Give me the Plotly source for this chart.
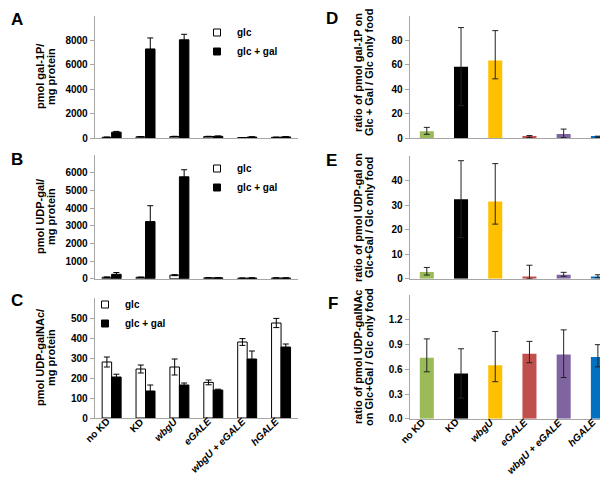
import plotly.graph_objects as go

W, H = 608, 477

groups = ['no KD', 'KD', 'wbgU', 'eGALE', 'wbgU + eGALE', 'hGALE']
italic_groups = ['wbgU', 'eGALE', 'wbgU + eGALE', 'hGALE']
ratio_colors = ['#9BBB59', '#000000', '#FFC000', '#C0504D', '#8064A2', '#0070C0']

# A: pmol gal-1P / mg protein
gal1p_glc = [60, 100, 120, 120, 30, 60]
gal1p_glc_err = [20, 20, 20, 20, 10, 10]
gal1p_gal = [480, 7300, 8050, 140, 80, 90]
gal1p_gal_err = [60, 900, 450, 30, 20, 20]

# B: pmol UDP-gal / mg protein
udpgal_glc = [80, 80, 200, 50, 30, 40]
udpgal_glc_err = [20, 10, 30, 10, 10, 10]
udpgal_gal = [250, 3240, 5780, 50, 40, 40]
udpgal_gal_err = [100, 900, 400, 10, 10, 10]

# C: pmol UDP-galNAc / mg protein
galnac_glc = [280, 245, 255, 178, 380, 475]
galnac_glc_err = [25, 20, 40, 12, 17, 23]
galnac_gal = [205, 135, 165, 140, 295, 355]
galnac_gal_err = [14, 30, 10, 4, 40, 15]

# D-F: ratio glc+gal / glc
ratio_gal1p = [5.5, 58.5, 63.5, 1.2, 3.3, 1.0]
ratio_gal1p_up = [3.2, 32, 24.5, 0.8, 4.0, 0.5]
ratio_gal1p_dn = [2.5, 32, 15, 0.8, 3.0, 0.5]

ratio_udpgal = [2.7, 32.5, 31.5, 0.9, 1.6, 0.9]
ratio_udpgal_up = [1.9, 15.7, 15.5, 4.6, 1.0, 0.7]
ratio_udpgal_dn = [1.2, 15.7, 9.2, 0.9, 0.6, 0.5]

ratio_galnac = [0.74, 0.55, 0.65, 0.79, 0.78, 0.75]
ratio_galnac_up = [0.23, 0.30, 0.41, 0.15, 0.30, 0.15]
ratio_galnac_dn = [0.17, 0.30, 0.20, 0.11, 0.28, 0.12]


def px(x):
    return x / W


def py(y):
    return 1 - y / H


# rough bold Arial advance widths (em), for placing the rotated labels
CHAR_EM = {'n': .611, 'o': .611, ' ': .278, 'K': .722, 'D': .722, 'w': .778,
           'b': .611, 'g': .611, 'U': .722, 'e': .556, 'G': .778, 'A': .722,
           'L': .611, 'E': .667, '+': .584, 'h': .611}


def text_em(s):
    return sum(CHAR_EM.get(c, .6) for c in s)


FONT = 'Liberation Sans'
fig = go.Figure()

left_panels = [
    ('', (gal1p_glc, gal1p_glc_err, gal1p_gal, gal1p_gal_err), 'legend'),
    ('2', (udpgal_glc, udpgal_glc_err, udpgal_gal, udpgal_gal_err), 'legend2'),
    ('3', (galnac_glc, galnac_glc_err, galnac_gal, galnac_gal_err), 'legend3'),
]
for n, (glc, glc_e, gal, gal_e), leg in left_panels:
    fig.add_trace(go.Bar(
        x=groups, y=glc, name='glc', xaxis='x' + n, yaxis='y' + n, showlegend=False,
        marker=dict(color='white', line=dict(color='black', width=1)),
        offset=-0.28, width=0.28,
        error_y=dict(type='data', array=glc_e, color='black', thickness=1, width=3),
    ))
    fig.add_trace(go.Bar(
        x=groups, y=gal, name='glc + gal', xaxis='x' + n, yaxis='y' + n, showlegend=False,
        marker=dict(color='black', line=dict(color='black', width=1)),
        offset=0, width=0.28,
        error_y=dict(type='data', array=gal_e, color='black', thickness=1, width=3),
    ))
    # small square legend keys like the Excel ones
    fig.add_trace(go.Scatter(
        x=[None], y=[None], mode='markers', name='glc', xaxis='x' + n, yaxis='y' + n,
        legend=leg, marker=dict(symbol='square', size=7, color='white',
                                line=dict(color='black', width=1)),
    ))
    fig.add_trace(go.Scatter(
        x=[None], y=[None], mode='markers', name='glc + gal', xaxis='x' + n, yaxis='y' + n,
        legend=leg, marker=dict(symbol='square', size=7, color='black',
                                line=dict(color='black', width=1)),
    ))

right_panels = [
    ('4', ratio_gal1p, ratio_gal1p_up, ratio_gal1p_dn),
    ('5', ratio_udpgal, ratio_udpgal_up, ratio_udpgal_dn),
    ('6', ratio_galnac, ratio_galnac_up, ratio_galnac_dn),
]
for n, vals, up, dn in right_panels:
    fig.add_trace(go.Bar(
        x=groups, y=vals, xaxis='x' + n, yaxis='y' + n, showlegend=False,
        marker=dict(color=ratio_colors, line=dict(width=0)),
        offset=-0.205, width=0.41,
        error_y=dict(type='data', symmetric=False, array=up, arrayminus=dn,
                     color='#222', thickness=1, width=3),
    ))

# panel geometry in pixels: (x0, x1, ytop, ybottom)
geo = {
    '': (86.7, 290, 8, 130),
    '2': (86.7, 290, 147.3, 270.7),
    '3': (86.7, 290, 290, 410),
    '4': (401.7, 607, 8, 130),
    '5': (401.7, 607, 148.3, 270.7),
    '6': (401.7, 607, 287.3, 410.7),
}
yranges = {'': [0, 10000], '2': [0, 7000], '3': [0, 600],
           '4': [0, 100], '5': [0, 50], '6': [0, 1.5]}
ytickvals = {'': [0, 2000, 4000, 6000, 8000], '2': [0, 1000, 2000, 3000, 4000, 5000, 6000],
             '3': [0, 100, 200, 300, 400, 500], '4': [0, 20, 40, 60, 80],
             '5': [0, 10, 20, 30, 40], '6': [0, 0.3, 0.6, 0.9, 1.2]}

tickfont = dict(family=FONT, size=10, color='black', weight='bold')
for n, (x0, x1, yt, yb) in geo.items():
    fig.update_layout({
        'xaxis' + n: dict(
            domain=[px(x0), px(x1)], anchor='y' + n, type='category',
            categoryarray=groups, range=[-0.5, 5.5], showline=True,
            linecolor='#a6a6a6', linewidth=1, ticks='', showgrid=False,
            showticklabels=False, fixedrange=True, automargin=False,
        ),
        'yaxis' + n: dict(
            domain=[py(yb), py(yt)], anchor='x' + n, range=yranges[n],
            showline=True, linecolor='#a6a6a6', linewidth=1, showgrid=False,
            zeroline=False, ticks='outside', ticklen=4, tickcolor='#a6a6a6',
            tickvals=ytickvals[n], tickformat='.1f' if n == '6' else 'd',
            tickfont=tickfont, fixedrange=True, automargin=False,
        ),
    })

annotations = []

# rotated category labels under C and F
label_size = 10
for n in ('3', '6'):
    x0, x1, yt, yb = geo[n]
    step = (x1 - x0) / len(groups)
    for i, g in enumerate(groups):
        cx = x0 + step * (i + 0.5)
        half = text_em(g) * label_size / 2 * 0.7071
        ex, ey = cx - 4, yb + 2
        txt = '<i>' + g + '</i>' if g in italic_groups else g
        annotations.append(dict(
            text=txt, x=px(ex - half), y=py(ey + half), xref='paper', yref='paper',
            xanchor='center', yanchor='middle', textangle=-45, showarrow=False,
            font=dict(family=FONT, size=label_size, color='black', weight='bold'),
        ))

# y-axis titles, one annotation per line to keep the tight Excel line spacing
ytitles = [
    (['pmol gal-1P/', 'mg protein'], 32, 69),
    (['pmol UDP-gal/', 'mg protein'], 32, 209),
    (['pmol UDP-galNAc/', 'mg protein'], 32, 350),
    (['ratio of pmol gal-1P on', 'Glc + Gal / Glc only food'], 350, 65),
    (['ratio of pmol UDP-gal on', 'Glc+Gal / Glc only food'], 350, 210),
    (['ratio of pmol UDP-galNAc', 'on Glc+Gal / Glc only food'], 350, 349),
]
for lines, x, y in ytitles:
    for k, line in enumerate(lines):
        annotations.append(dict(
            text=line, x=px(x + 11 * k), y=py(y), xref='paper', yref='paper',
            xanchor='center', yanchor='middle', textangle=-90, showarrow=False,
            font=dict(family=FONT, size=11, color='black', weight='bold'),
        ))

letters = [('A', 9, 12), ('B', 9, 151), ('C', 9, 292),
           ('D', 324, 11), ('E', 323, 152), ('F', 325, 295)]
for text, x, y in letters:
    annotations.append(dict(
        text=text, x=px(x), y=py(y), xref='paper', yref='paper',
        xanchor='center', yanchor='middle', showarrow=False,
        font=dict(family=FONT, size=17, color='black', weight='bold'),
    ))

legfont = dict(family=FONT, size=10, color='black', weight='bold')
legbase = dict(bgcolor='rgba(0,0,0,0)', font=legfont, xanchor='left', yanchor='top',
               itemwidth=30, tracegroupgap=0)
fig.update_layout(
    width=W, height=H, margin=dict(l=0, r=0, t=0, b=0),
    paper_bgcolor='white', plot_bgcolor='white', barmode='overlay',
    showlegend=True, annotations=annotations,
    legend=dict(x=px(189), y=py(10), **legbase),
    legend2=dict(x=px(189), y=py(146), **legbase),
    legend3=dict(x=px(77), y=py(282), **legbase),
)

fig.write_html('out.html')
